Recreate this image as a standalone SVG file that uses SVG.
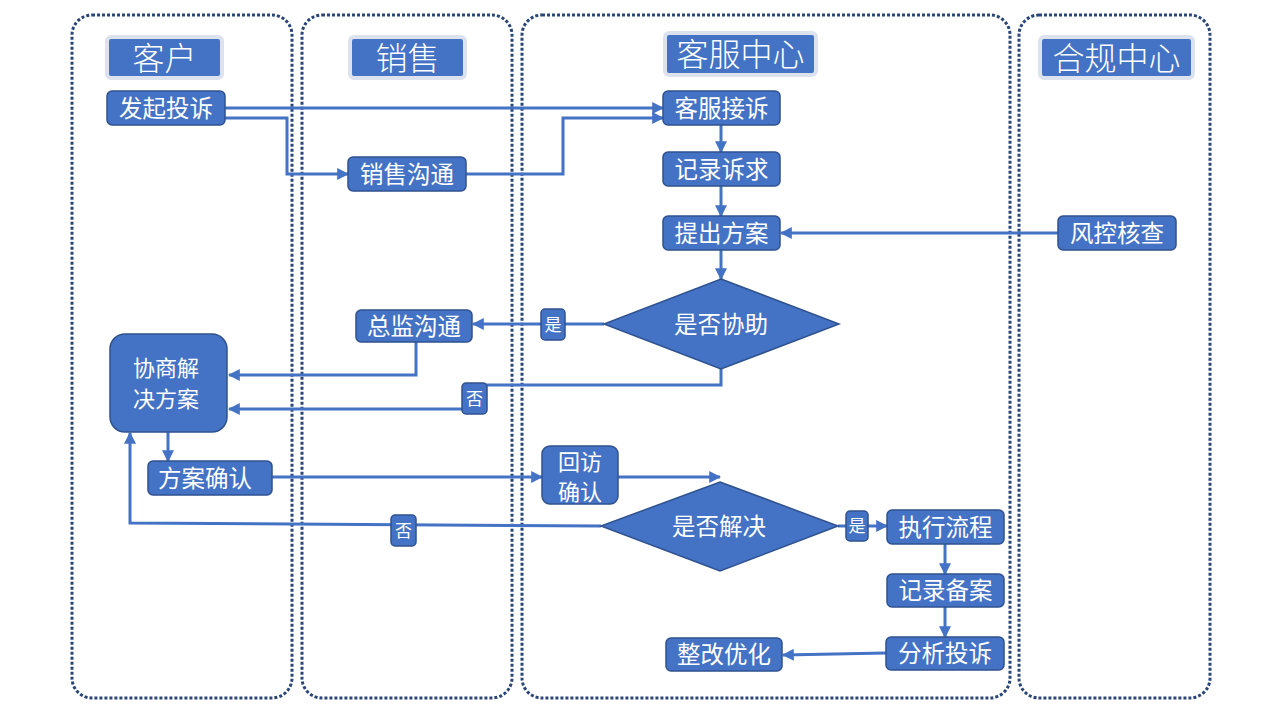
<svg xmlns="http://www.w3.org/2000/svg" width="1280" height="720" viewBox="0 0 1280 720">
<defs>
<marker id="ah" viewBox="0 0 10 10" refX="9" refY="5" markerWidth="4" markerHeight="4" orient="auto" markerUnits="strokeWidth">
<path d="M0,0 L10,5 L0,10 z" fill="#4472C4"/>
</marker>
<style>
.lane{fill:none;stroke:#2A4677;stroke-width:3;stroke-dasharray:3 2}
.hdr{fill:#4472C4;stroke:#DCE3EF;stroke-width:4}
.ht{font-family:"Noto Sans CJK SC","Liberation Sans",sans-serif;font-size:32px;font-weight:300;fill:#fff;text-anchor:middle;dominant-baseline:central}
.nd{fill:#4472C4;stroke:#2F528F;stroke-width:1.5}
.t{font-family:"Noto Sans CJK SC","Liberation Sans",sans-serif;font-size:23.5px;fill:#fff;text-anchor:middle;dominant-baseline:central}
.t2{font-family:"Noto Sans CJK SC","Liberation Sans",sans-serif;font-size:22px;fill:#fff;text-anchor:middle;dominant-baseline:central}
.lb{font-family:"Noto Sans CJK SC","Liberation Sans",sans-serif;font-size:17px;fill:#fff;text-anchor:middle;dominant-baseline:central}
.c{fill:none;stroke:#4472C4;stroke-width:3;marker-end:url(#ah)}
.cn{fill:none;stroke:#4472C4;stroke-width:3}
</style>
</defs>
<rect width="1280" height="720" fill="#fff"/>
<g id="lanes">
<rect class="lane" x="72" y="15" width="220" height="683" rx="20"/>
<rect class="lane" x="302" y="15" width="210" height="683" rx="20"/>
<rect class="lane" x="522" y="15" width="488" height="683" rx="20"/>
<rect class="lane" x="1019" y="15" width="191" height="683" rx="20"/>
</g>
<g id="headers">
<g id="h-kehu"><rect class="hdr" x="107" y="37" width="115" height="41" rx="4"/><text class="ht" x="164.5" y="55.5">客户</text></g>
<g id="h-xiaoshou"><rect class="hdr" x="350" y="37" width="115" height="41" rx="4"/><text class="ht" x="407.5" y="55.5">销售</text></g>
<g id="h-kefu"><rect class="hdr" x="665" y="33" width="151" height="42" rx="4"/><text class="ht" x="740.5" y="52">客服中心</text></g>
<g id="h-hegui"><rect class="hdr" x="1040" y="37" width="153" height="41" rx="4"/><text class="ht" x="1116.5" y="55.5">合规中心</text></g>
</g>
<g id="connectors">
<path class="c" d="M225,108 H663"/>
<path class="c" d="M225,118 H287 V174 H348"/>
<path class="c" d="M466,174 H563 V118 H663"/>
<path class="c" d="M721,125 V152"/>
<path class="c" d="M721,186 V216"/>
<path class="c" d="M1058,233 H781"/>
<path class="c" d="M721,250 V279"/>
<path class="c" d="M604,324 H473"/>
<path class="c" d="M416,342 V375 H229"/>
<path class="cn" d="M721,369 V385 H475 V409"/>
<path class="c" d="M475,409 H229"/>
<path class="c" d="M168,432 V461"/>
<path class="c" d="M272,477 H542"/>
<path class="c" d="M618,477 H720"/>
<path class="c" d="M601,526 L130,523 V433"/>
<path class="c" d="M838,526 H887"/>
<path class="c" d="M945,544 V574"/>
<path class="c" d="M945,607 V637"/>
<path class="c" d="M886,653 L783,655"/>
</g>
<g id="n-faqi"><rect class="nd" x="107" y="91" width="118" height="34" rx="5"/><text class="t" x="166" y="106.5">发起投诉</text></g>
<g id="n-xiaoshougoutong"><rect class="nd" x="348" y="157" width="118" height="34" rx="5"/><text class="t" x="407" y="172.5">销售沟通</text></g>
<g id="n-jiesu"><rect class="nd" x="663" y="91" width="117" height="34" rx="5"/><text class="t" x="721.5" y="106.5">客服接诉</text></g>
<g id="n-jilusuqiu"><rect class="nd" x="663" y="152" width="117" height="34" rx="5"/><text class="t" x="721.5" y="167.5">记录诉求</text></g>
<g id="n-tichu"><rect class="nd" x="663" y="216" width="117" height="34" rx="5"/><text class="t" x="721.5" y="231.5">提出方案</text></g>
<g id="n-fengkong"><rect class="nd" x="1058" y="216" width="118" height="34" rx="5"/><text class="t" x="1117" y="231.5">风控核查</text></g>
<g id="n-xiezhu"><polygon class="nd" points="721,279 839,324 721,369 604,324"/><text class="t" x="721" y="322.5">是否协助</text></g>
<g id="n-zongjian"><rect class="nd" x="356" y="310" width="116" height="32" rx="5"/><text class="t" x="414" y="324.5">总监沟通</text></g>
<g id="l-shi1"><rect class="nd" x="541" y="309" width="24" height="31" rx="4"/><text class="lb" x="553" y="323">是</text></g>
<g id="n-xieshang"><rect class="nd" x="110" y="334" width="117" height="98" rx="15"/><text class="t2" x="166" y="366">协商解</text><text class="t2" x="166" y="397">决方案</text></g>
<g id="l-fou1"><rect class="nd" x="462" y="383" width="25" height="31" rx="4"/><text class="lb" x="474.5" y="397">否</text></g>
<g id="n-queren"><rect class="nd" x="148" y="461" width="124" height="34" rx="5"/><text class="t" x="205" y="476.5">方案确认</text></g>
<g id="n-huifang"><rect class="nd" x="542" y="446" width="76" height="58" rx="8"/><text class="t2" x="580" y="459.5">回访</text><text class="t2" x="580" y="489.5">确认</text></g>
<g id="n-jiejue"><polygon class="nd" points="720,482 838,526 720,571 601,526"/><text class="t" x="719" y="524.5">是否解决</text></g>
<g id="l-fou2"><rect class="nd" x="391" y="515" width="25" height="31" rx="4"/><text class="lb" x="403.5" y="529">否</text></g>
<g id="l-shi2"><rect class="nd" x="846" y="511" width="22" height="30" rx="4"/><text class="lb" x="857" y="524.5">是</text></g>
<g id="n-zhixing"><rect class="nd" x="887" y="510" width="117" height="34" rx="5"/><text class="t" x="945.5" y="525.5">执行流程</text></g>
<g id="n-beian"><rect class="nd" x="887" y="574" width="117" height="33" rx="5"/><text class="t" x="945.5" y="589">记录备案</text></g>
<g id="n-fenxi"><rect class="nd" x="886" y="637" width="118" height="33" rx="5"/><text class="t" x="945" y="652">分析投诉</text></g>
<g id="n-zhenggai"><rect class="nd" x="666" y="638" width="116" height="33" rx="5"/><text class="t" x="724" y="653">整改优化</text></g>
</svg>
